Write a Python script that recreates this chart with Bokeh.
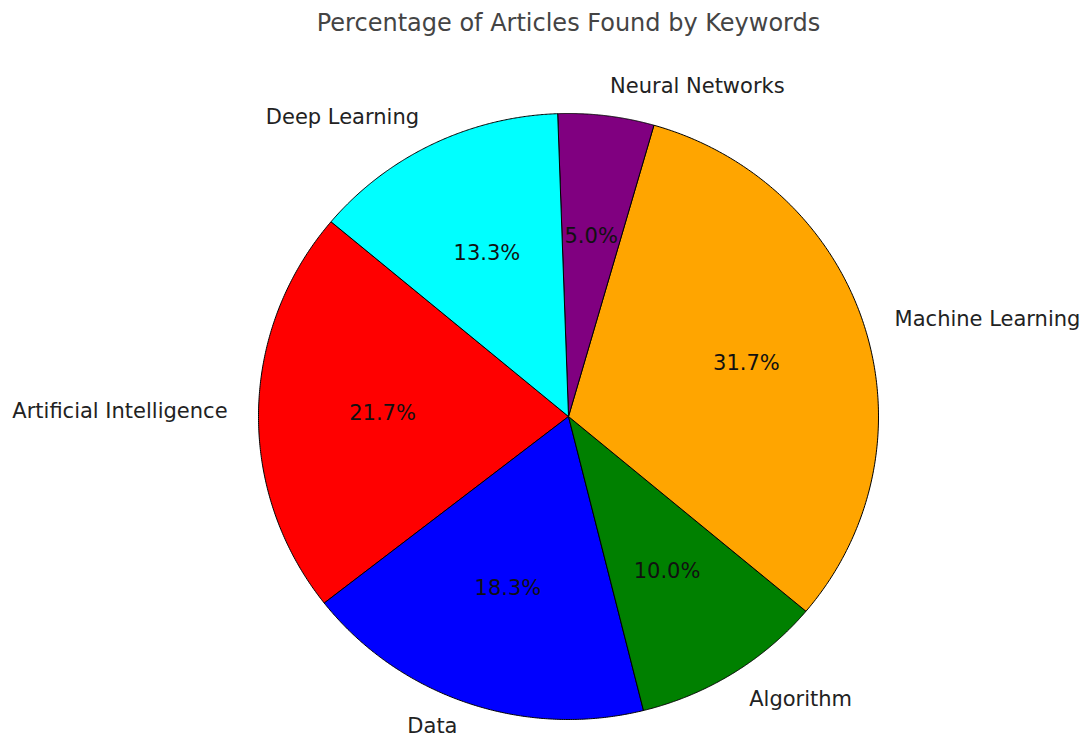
import numpy as np
from bokeh.plotting import figure
from bokeh.models import Range1d, ColumnDataSource, Label
from bokeh.core.properties import value
from bokeh.embed import file_html
from bokeh.resources import INLINE

# ---- data ----
categories = ["Artificial Intelligence", "Data", "Algorithm", "Machine Learning", "Neural Networks", "Deep Learning"]
counts = [13, 11, 6, 19, 3, 8]
colors = ["red", "blue", "green", "orange", "purple", "cyan"]
title_text = "Percentage of Articles Found by Keywords"
start_angle_deg = 140.0

W, H = 1082, 737
CX, CY = 568, 416      # pie centre in pixels
RX, RY = 310, 303      # pie radius in pixels (x, y)

p = figure(width=W, height=H, output_backend="svg", toolbar_location=None,
           x_range=Range1d(-CX / RX, (W - CX) / RX),
           y_range=Range1d(-(H - CY) / RY, CY / RY),
           min_border=0, outline_line_color=None)
p.axis.visible = False
p.grid.visible = False
p.background_fill_color = "white"
p.border_fill_color = "white"

vals = np.array(counts, dtype=float)
frac = vals / vals.sum()
cum = np.concatenate([[0], np.cumsum(frac)])
starts = np.deg2rad(start_angle_deg + 360 * cum[:-1])
ends = np.deg2rad(start_angle_deg + 360 * cum[1:])

xs, ys = [], []
for a0, a1 in zip(starts, ends):
    t = np.linspace(a0, a1, 200)
    xs.append(np.concatenate([[0], np.cos(t), [0]]).tolist())
    ys.append(np.concatenate([[0], np.sin(t), [0]]).tolist())

src = ColumnDataSource(dict(xs=xs, ys=ys, color=colors))
p.patches("xs", "ys", source=src, fill_color="color", line_color="black", line_width=1)

mid = (starts + ends) / 2
lab_x = 1.1 * np.cos(mid)
lab_y = 1.1 * np.sin(mid)
# keep labels inside the canvas
min_y = -(H - CY - 12) / RY
lab_y = np.maximum(lab_y, min_y)
align = ["left" if x > 0 else "right" for x in lab_x]
lsrc = ColumnDataSource(dict(x=lab_x, y=lab_y, text=categories, align=align))
p.text("x", "y", text="text", source=lsrc, text_align="align", text_baseline="middle",
       text_font=value("DejaVu Sans"), text_font_size="21px", text_color="#222222")

pct = ["%.1f%%" % (f * 100) for f in frac]
psrc = ColumnDataSource(dict(x=0.6 * np.cos(mid), y=0.6 * np.sin(mid), text=pct))
p.text("x", "y", text="text", source=psrc, text_align="center", text_baseline="middle",
       text_font=value("DejaVu Sans"), text_font_size="21px", text_color="#111111")

p.add_layout(Label(x=CX, y=H - 22, x_units="screen", y_units="screen", text=title_text,
                   text_align="center", text_baseline="middle",
                   text_font="DejaVu Sans", text_font_size="24px", text_color="#444444"))

open("out.html", "w").write(file_html(p, INLINE))
